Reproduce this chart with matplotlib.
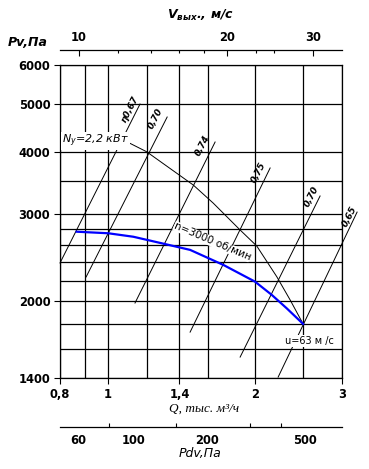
import numpy as np
import matplotlib.pyplot as plt
from matplotlib.ticker import NullFormatter

# fan curve n=3000 rpm (Q in thousand m3/h, Pv in Pa)
q_fan = [0.865, 1.003, 1.128, 1.289, 1.472, 1.721, 1.996, 2.159, 2.316, 2.50]
p_fan = [2764, 2744, 2700, 2619, 2540, 2368, 2191, 2060, 1935, 1800]

# power line N=2,2 kW
q_power = [1.094, 1.20, 1.494, 1.64, 1.861, 2.012, 2.21, 2.353, 2.50]
p_power = [4200, 4010, 3434, 3158, 2786, 2586, 2242, 2012, 1800]

# efficiency lines: start / end points and label positions
eff_labels = ["η0,67", "0,70", "0,74", "0,75", "0,70", "0,65"]
eff_q0 = [0.80, 0.904, 1.137, 1.472, 1.861, 2.224]
eff_p0 = [2390, 2239, 1984, 1733, 1543, 1406]
eff_q1 = [1.164, 1.322, 1.655, 2.142, 2.707, 3.22]
eff_p1 = [5004, 4711, 4194, 3717, 3263, 3028]
eff_lq = [1.111, 1.255, 1.564, 2.025, 2.596, 3.103]
eff_lp = [4890, 4668, 4135, 3631, 3248, 2959]

# axes ticks
q_ticks = [0.8, 1, 1.4, 2, 3]
q_tick_labels = ["0,8", "1", "1,4", "2", "3"]
q_grid = [0.9, 1.2, 1.6, 2.5]
p_ticks = [1400, 2000, 3000, 4000, 5000, 6000]
p_grid = [1600, 1800, 2200, 2400, 2600, 2800, 3500]
v_ticks = [10, 20, 30]
v_minor = [12, 14, 16, 18, 23, 25]
pdv_ticks = [60, 100, 200, 500]
pdv_minor = [80, 150, 300, 400]

K_V = 11.45  # outlet velocity per 1000 m3/h


def q_to_v(q):
    return K_V * np.asarray(q)


def v_to_q(v):
    return np.asarray(v) / K_V


def q_to_pdv(q):
    return 0.6 * (K_V * np.asarray(q)) ** 2


def pdv_to_q(p):
    return np.sqrt(np.abs(p) / 0.6) / K_V


W, H = 369, 469
fig = plt.figure(figsize=(W / 100, H / 100), dpi=100)
ax = fig.add_axes([60 / W, 1 - 378 / H, 282 / W, 313 / H])
ax.set_xscale('log')
ax.set_yscale('log')
ax.set_xlim(0.8, 3)
ax.set_ylim(1400, 6000)

ax.set_xticks(q_ticks, q_tick_labels, fontweight='bold', fontsize=8.3)
ax.set_xticks(q_grid, minor=True)
ax.set_yticks(p_ticks, [str(p) for p in p_ticks], fontweight='bold', fontsize=8.3)
ax.set_yticks(p_grid, minor=True)
ax.xaxis.set_minor_formatter(NullFormatter())
ax.yaxis.set_minor_formatter(NullFormatter())
ax.tick_params(which='major', direction='out', length=4, width=0.8, pad=3)
ax.tick_params(which='minor', length=0)
ax.grid(which='both', color='black', linewidth=0.9)
for s in ax.spines.values():
    s.set_linewidth(0.9)

# efficiency lines
for i in range(len(eff_labels)):
    ax.plot([eff_q0[i], eff_q1[i]], [eff_p0[i], eff_p1[i]], color='black',
            lw=0.7, clip_on=False)
    ax.text(eff_lq[i], eff_lp[i], eff_labels[i], rotation=63, fontsize=6.5,
            fontweight='bold', style='italic', ha='center', va='center',
            rotation_mode='anchor', clip_on=False)

# power line
ax.plot(q_power, p_power, color='black', lw=0.7)
# fan curve
ax.plot(q_fan, p_fan, color='#0000ff', lw=1.6)

ax.text(0.945, 4215, r"N$_{\mathregular{у}}$=2,2 кВт", fontsize=8, style='italic',
        ha='center', va='center',
        bbox=dict(facecolor='white', edgecolor='none', pad=0.5))
ax.text(1.632, 2640, "n=3000 об/мин", fontsize=7.5, rotation=-23,
        ha='center', va='center', rotation_mode='anchor',
        bbox=dict(facecolor='white', edgecolor='none', pad=0))
ax.text(2.571, 1663, "u=63 м /с", fontsize=7, ha='center', va='center',
        bbox=dict(facecolor='white', edgecolor='none', pad=0.5))

# top axis: outlet velocity
top = ax.secondary_xaxis((378 - 50) / 313, functions=(q_to_v, v_to_q))
top.set_xticks(v_ticks, [str(v) for v in v_ticks], fontweight='bold', fontsize=8.3)
top.set_xticks(v_minor, minor=True)
top.xaxis.set_minor_formatter(NullFormatter())
top.tick_params(which='major', direction='in', length=4, width=0.8, pad=4)
top.tick_params(which='minor', direction='in', length=2.5, width=0.8)
for s in top.spines.values():
    s.set_linewidth(0.9)

# bottom axis: dynamic pressure
bot = ax.secondary_xaxis((378 - 427) / 313, functions=(q_to_pdv, pdv_to_q))
bot.set_xticks(pdv_ticks, [str(p) for p in pdv_ticks], fontweight='bold', fontsize=8.3)
bot.set_xticks(pdv_minor, minor=True)
bot.xaxis.set_minor_formatter(NullFormatter())
bot.tick_params(which='major', direction='in', length=0, pad=5)
bot.tick_params(which='minor', direction='in', length=3, width=0.8)
for s in bot.spines.values():
    s.set_linewidth(0.9)

# axis titles
fig.text(28 / W, 1 - 43 / H, "Pv,Па", fontsize=9, style='italic', fontweight='bold',
         ha='center', va='center')
fig.text(201 / W, 1 - 15 / H, r"V$_{\mathregular{вых}}$., м/с", fontsize=9,
         style='italic', fontweight='bold', ha='center', va='center')
fig.text(204 / W, 1 - 409 / H, "Q, тыс. м³/ч", fontsize=9.5, style='italic',
         family='Liberation Serif', ha='center', va='center')
fig.text(200 / W, 1 - 453 / H, "Pdv,Па", fontsize=9, style='italic',
         ha='center', va='center')

fig.savefig('out.png', dpi=100)
